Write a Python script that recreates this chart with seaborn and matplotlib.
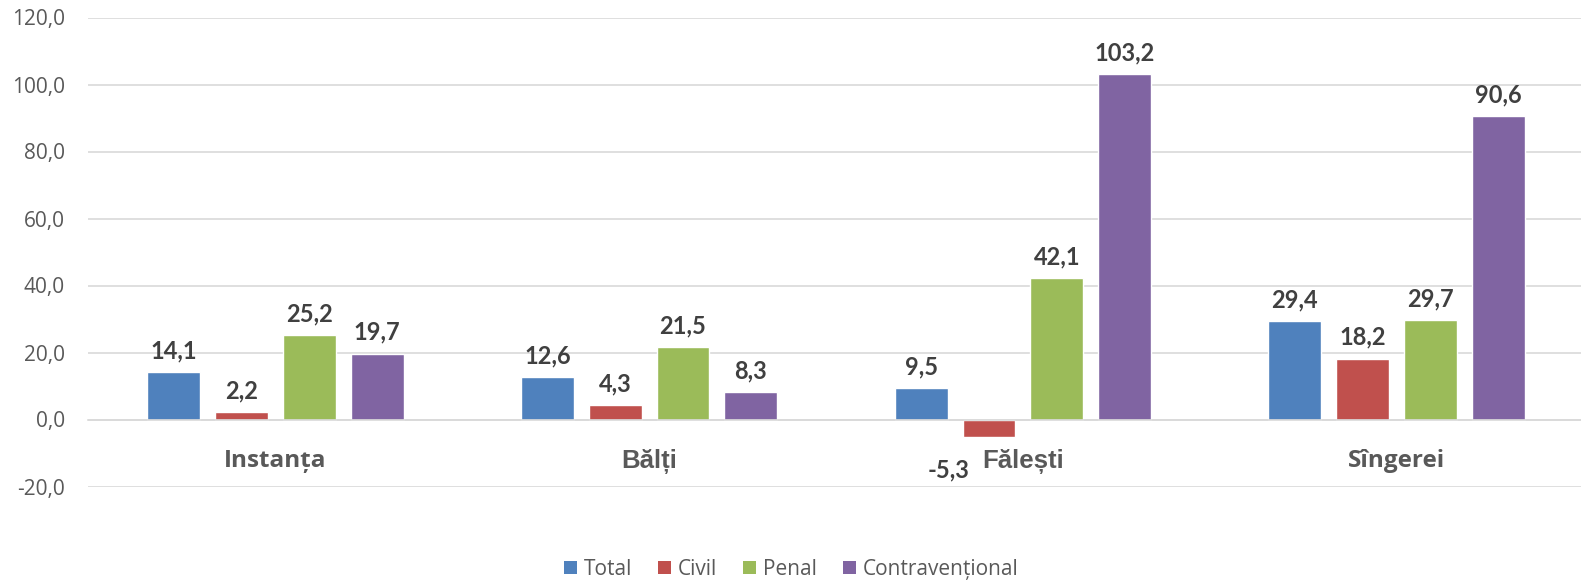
import matplotlib
matplotlib.use("Agg")
import matplotlib.pyplot as plt
import seaborn as sns
import pandas as pd
from matplotlib.patches import Patch

categories = ["Instanța", "Bălți", "Fălești", "Sîngerei"]
series = ["Total", "Civil", "Penal", "Contravențional"]
total = [14.1, 12.6, 9.5, 29.4]
civil = [2.2, 4.3, -5.3, 18.2]
penal = [25.2, 21.5, 42.1, 29.7]
contrav = [19.7, 8.3, 103.2, 90.6]
y_ticks = [-20, 0, 20, 40, 60, 80, 100, 120]

colors = ["#4F81BD", "#C0504D", "#9BBB59", "#8064A2"]

rows = []
for s, vals in zip(series, [total, civil, penal, contrav]):
    for c, v in zip(categories, vals):
        rows.append({"cat": c, "series": s, "value": v})
df = pd.DataFrame(rows)

sns.set_theme(style="white")
plt.rcParams["font.family"] = ["Open Sans", "DejaVu Sans"]

W, H = 1581, 582
fig = plt.figure(figsize=(W / 100, H / 100), dpi=100)
left, right, top, bottom = 88.4, 1583.6, 17.5, 486.5
ax = fig.add_axes([left / W, 1 - bottom / H, (right - left) / W, (bottom - top) / H])

sns.barplot(data=df, x="cat", y="value", hue="series", order=categories,
            hue_order=series, palette=colors, width=0.726, gap=0.22,
            saturation=1, ax=ax, legend=False, errorbar=None)

ax.set_ylim(-20, 120)
ax.set_xlim(-0.5, len(categories) - 0.5)
ax.set_yticks(y_ticks)
ax.set_yticklabels([f"{t:.1f}".replace(".", ",") for t in y_ticks],
                   fontsize=15, color="#595959")
ax.yaxis.grid(True, color="#D9D9D9", linewidth=1.2)
ax.set_axisbelow(True)
for side in ["left", "right", "top"]:
    ax.spines[side].set_visible(False)
ax.spines["bottom"].set_position(("data", 0))
ax.spines["bottom"].set_color("#D9D9D9")
ax.spines["bottom"].set_linewidth(1.2)
ax.tick_params(axis="y", length=0, pad=17)
ax.tick_params(axis="x", length=0, pad=21)
ax.set_xticks(range(len(categories)))
ax.set_xticklabels(categories, fontsize=17.5, fontweight="bold", color="#595959")
for lab in ax.get_xticklabels():
    if lab.get_text() in ("Bălți", "Fălești"):
        lab.set_fontfamily(["Liberation Sans", "DejaVu Sans"])
        lab.set_fontsize(18.5)
ax.set_xlabel("")
ax.set_ylabel("")

for cont in ax.containers:
    vals = [b.get_height() for b in cont]
    anns = ax.bar_label(cont, labels=[f"{v:.1f}".replace(".", ",") for v in vals],
                        padding=7, fontsize=17, fontweight="bold", color="#404040",
                        fontfamily=["Lato", "DejaVu Sans"])
    for v, a in zip(vals, anns):
        if v < 0:
            a.xyann = (-29, -15)

handles = [Patch(facecolor=c, edgecolor="none") for c in colors]
fig.legend(handles, series, loc="center", bbox_to_anchor=(0.5005, 0.022), ncol=4,
           frameon=False, fontsize=15, handlelength=0.6, handleheight=0.6,
           handletextpad=0.35, columnspacing=1.25, labelcolor="#595959")

fig.savefig("out.png", dpi=100)
